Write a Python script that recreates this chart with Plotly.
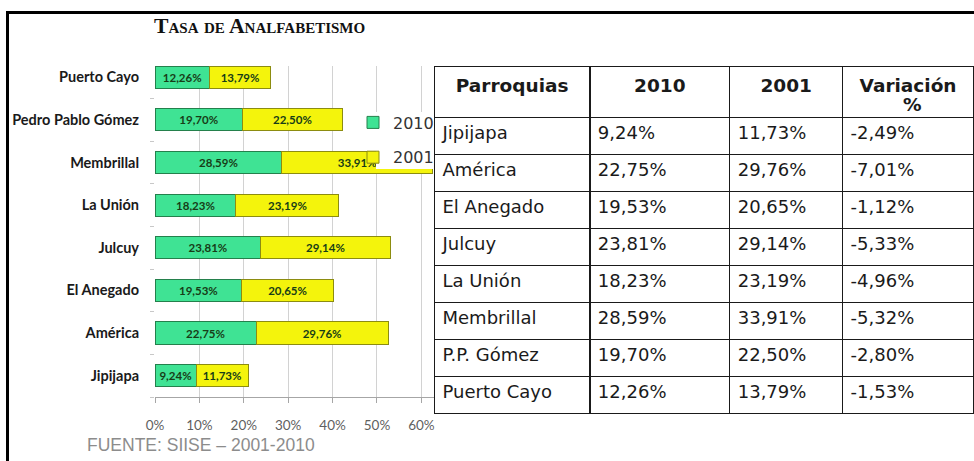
import plotly.graph_objects as go

# Parroquias del cantón (orden de abajo hacia arriba en el gráfico)
parroquias = ["Jipijapa", "América", "El Anegado", "Julcuy", "La Unión",
              "Membrillal", "Pedro Pablo Gómez", "Puerto Cayo"]
parroquias_tabla = ["Jipijapa", "América", "El Anegado", "Julcuy", "La Unión",
                    "Membrillal", "P.P. Gómez", "Puerto Cayo"]

# Tasa de analfabetismo (%)
tasa_2010 = [9.24, 22.75, 19.53, 23.81, 18.23, 28.59, 19.70, 12.26]
tasa_2001 = [11.73, 29.76, 20.65, 29.14, 23.19, 33.91, 22.50, 13.79]
variacion = [-2.49, -7.01, -1.12, -5.33, -4.96, -5.32, -2.80, -1.53]

x_ticks = [0, 10, 20, 30, 40, 50, 60]
x_ticktext = [f"{v}%" for v in x_ticks]
encabezados = ["<b>Parroquias</b>", "<b>2010</b>", "<b>2001</b>", "<b>Variación</b>"]
unidad_variacion = "<b>%</b>"

titulo = "Tasa de Analfabetismo"
fuente = "FUENTE: SIISE – 2001-2010"

W, H = 974, 461


def pct(v):
    return f"{v:.2f}".replace(".", ",") + "%"


def fx(px):
    return px / W


def fy(py):
    return 1 - py / H


fig = go.Figure()

fig.add_bar(
    y=parroquias, x=tasa_2010, orientation="h", name="2010",
    legendgroup="g2010", width=0.52,
    marker=dict(color="#3fe394", line=dict(color="#24804c", width=1)),
    text=[pct(v) for v in tasa_2010], textposition="inside",
    insidetextanchor="middle",
    textfont=dict(family="Lato", size=11.5, color="#173d17", weight="bold"),
)
fig.add_bar(
    y=parroquias, x=tasa_2001, orientation="h", name="2001",
    legendgroup="g2001", width=0.52,
    marker=dict(color="#f4f40c", line=dict(color="#8c8c10", width=1)),
    text=[pct(v) for v in tasa_2001], textposition="inside",
    insidetextanchor="middle",
    textfont=dict(family="Lato", size=11.5, color="#173d17", weight="bold"),
)

fig.add_trace(go.Table(
    domain=dict(x=[fx(434.5), 1], y=[0, fy(66.7)]),
    columnwidth=[155.5, 140, 113, 131],
    header=dict(
        values=encabezados, height=50.6, align="center",
        font=dict(family="DejaVu Sans", size=18.5, color="#1a1a1a"),
        fill_color="rgba(0,0,0,0)", line=dict(color="#1a1a1a", width=1.3),
    ),
    cells=dict(
        values=[parroquias_tabla,
                [pct(v) for v in tasa_2010],
                [pct(v) for v in tasa_2001],
                [pct(v) for v in variacion]],
        height=37, align="left",
        font=dict(family="DejaVu Sans", size=18, color="#1a1a1a"),
        fill_color="rgba(0,0,0,0)", line=dict(color="#1a1a1a", width=1.3),
    ),
))

fig.update_layout(
    width=W, height=H,
    margin=dict(l=0, r=0, t=0, b=0),
    paper_bgcolor="white", plot_bgcolor="white",
    barmode="stack",
    title=dict(
        text=titulo, x=fx(154), xanchor="left", xref="paper",
        y=fy(25), yanchor="middle", yref="container",
        font=dict(family="Liberation Serif", size=21.7, color="#111111",
                  weight="bold", variant="small-caps"),
    ),
    xaxis=dict(
        domain=[fx(155), fx(434.7)], range=[0, 63],
        tickmode="array", tickvals=x_ticks, ticktext=x_ticktext,
        showgrid=True, gridcolor="#d2d2d2", gridwidth=1, zeroline=False,
        showline=True, linecolor="#a6a6a6",
        ticks="outside", ticklen=5, tickcolor="#a6a6a6",
        tickfont=dict(family="Lato", size=13.5, color="#5f5f5f"),
        ticklabelstandoff=11, automargin=False, fixedrange=True,
    ),
    yaxis=dict(
        domain=[fy(397), fy(66)], range=[-0.5, 7.264],
        type="category", showgrid=False, zeroline=False, showline=False,
        ticks="outside", tickson="boundaries", ticklen=4, tickcolor="#c8c8c8",
        tickfont=dict(family="Lato", size=14.5, color="#1a1a1a", weight="bold"),
        ticklabelstandoff=15, automargin=False, fixedrange=True,
    ),
    legend=dict(
        x=fx(353), y=fy(105.5), xanchor="left", yanchor="top",
        bgcolor="rgba(0,0,0,0)", borderwidth=0,
        font=dict(family="DejaVu Sans", size=16, color="#333333"),
        traceorder="grouped", tracegroupgap=11, itemwidth=30,
    ),
    showlegend=True,
    annotations=[
        dict(text=fuente, x=fx(85), y=fy(445), xref="paper", yref="paper",
             xanchor="left", yanchor="middle", showarrow=False,
             font=dict(family="Liberation Sans", size=17.5, color="#8c8c8c")),
        # segunda línea del encabezado "Variación %"
        dict(text=unidad_variacion, x=fx(912), y=fy(105), xref="paper", yref="paper",
             xanchor="center", yanchor="middle", showarrow=False,
             font=dict(family="DejaVu Sans", size=18.5, color="#1a1a1a")),
    ],
    shapes=[
        # recuadro blanco detrás de la leyenda
        dict(type="rect", xref="paper", yref="paper", layer="above",
             x0=fx(376), x1=fx(434), y0=fy(169), y1=fy(112),
             fillcolor="white", line=dict(width=0)),
        dict(type="line", xref="paper", yref="paper",
             x0=fx(6), x1=1.01, y0=fy(12.5), y1=fy(12.5),
             line=dict(color="black", width=3)),
        dict(type="line", xref="paper", yref="paper",
             x0=fx(7.5), x1=fx(7.5), y0=fy(11), y1=-0.01,
             line=dict(color="black", width=3)),
    ],
)

fig.write_html("out.html", config={"displayModeBar": False})
